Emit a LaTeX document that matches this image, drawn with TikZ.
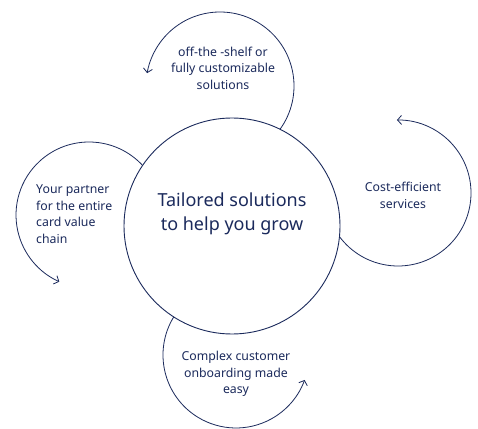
\documentclass[tikz,border=0pt]{standalone}
\usepackage{fontspec}
\setmainfont{Noto Sans}
\usetikzlibrary{arrows.meta}
\definecolor{navy}{HTML}{1B2A5C}
\begin{document}
\begin{tikzpicture}[x=1pt,y=1pt,
  ring/.style={draw=navy, line width=0.9pt},
  arcline/.style={draw=navy, line width=0.8pt, -{Straight Barb[length=4pt,width=9pt,line width=0.8pt]}},
  smalltext/.style={text=navy, font=\fontsize{12.3}{16.5}\selectfont, align=center, inner sep=0pt},
  bigtext/.style={text=navy, font=\fontsize{18}{24}\selectfont, align=center, inner sep=0pt}]
\useasboundingbox (0,0) rectangle (478,428);
\fill[white] (0,0) rectangle (478,428);
\coordinate (cB) at (232,202);
\coordinate (cT) at (220,342);
\coordinate (cL) at (89,213);
\coordinate (cR) at (398,235);
\coordinate (cD) at (236,73);
\node[ring, circle, minimum size=216pt, inner sep=0pt] (core) at (cB) {};
\node[bigtext] (coretext) at (232,214) {Tailored solutions\\to help you grow};
\draw[arcline] ([shift={(-35.8:74)}]cT) arc[start angle=-35.8, end angle=170, radius=74];
\draw[arcline] ([shift={(42.8:73)}]cL) arc[start angle=42.8, end angle=246, radius=73];
\draw[arcline] ([shift={(216.7:73)}]cR) arc[start angle=216.7, end angle=450.8, radius=73];
\draw[arcline] ([shift={(148.6:73)}]cD) arc[start angle=148.6, end angle=340, radius=73];
\node[smalltext] (toptext) at (223,360) {off-the -shelf or\\fully customizable\\solutions};
\node[smalltext, align=left, anchor=west] (lefttext) at (36,214) {Your partner\\for the entire\\card value\\chain};
\node[smalltext] (righttext) at (403,232.5) {Cost-efficient\\services};
\node[smalltext] (bottomtext) at (236,54) {Complex customer\\onboarding made\\easy};
\end{tikzpicture}
\end{document}
